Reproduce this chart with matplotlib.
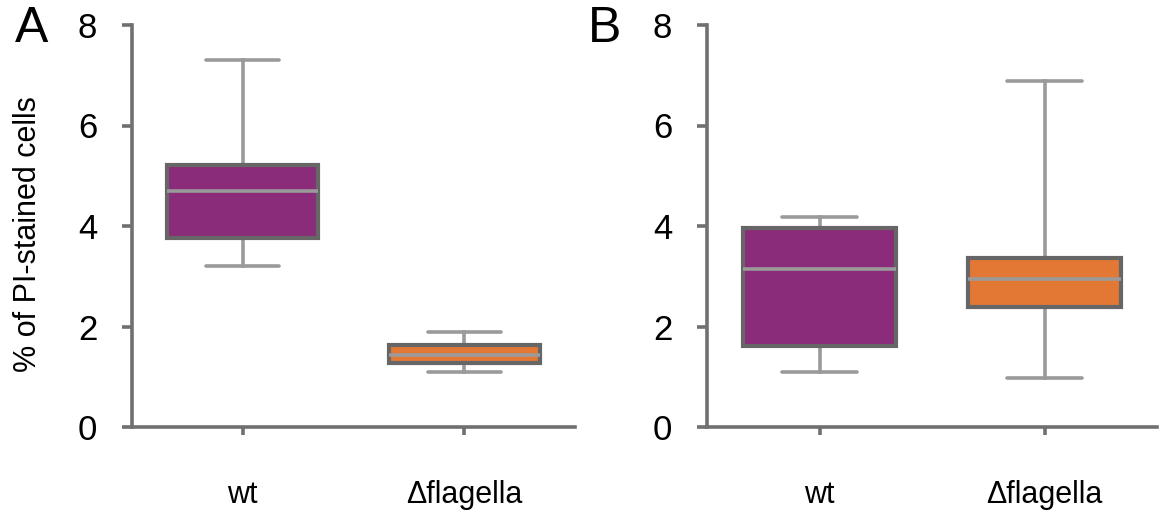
import matplotlib
matplotlib.use("Agg")
import matplotlib.pyplot as plt
from matplotlib import font_manager

names = set(f.name for f in font_manager.fontManager.ttflist)
fam = ['Liberation Sans Narrow'] if 'Liberation Sans Narrow' in names else []
plt.rcParams['font.family'] = fam + ['Liberation Sans', 'DejaVu Sans']

# box statistics (% of PI-stained cells)
groups = ['wt', '\u0394flagella']
a_whislo = [3.20, 1.09]
a_q1 = [3.76, 1.28]
a_med = [4.70, 1.43]
a_q3 = [5.21, 1.63]
a_whishi = [7.30, 1.89]

b_whislo = [1.09, 0.98]
b_q1 = [1.61, 2.39]
b_med = [3.14, 2.94]
b_q3 = [3.96, 3.36]
b_whishi = [4.18, 6.89]

box_colors = ['#8b2c7a', '#e37834']
edge = '#666666'
whisk = '#9a9a9a'
spine = '#707070'


def make_stats(lo, q1, med, q3, hi):
    return [dict(whislo=lo[i], q1=q1[i], med=med[i], q3=q3[i], whishi=hi[i], fliers=[])
            for i in range(len(lo))]


def draw_panel(ax, stats, letter):
    bp = ax.bxp(stats, positions=[1, 2], widths=0.68, patch_artist=True,
                showfliers=False, capwidths=0.33,
                boxprops=dict(edgecolor=edge, linewidth=3.0, zorder=3),
                whiskerprops=dict(color=whisk, linewidth=2.6, zorder=2),
                capprops=dict(color=whisk, linewidth=2.6, solid_capstyle='round'),
                medianprops=dict(color=whisk, linewidth=2.6, zorder=4))
    for patch, c in zip(bp['boxes'], box_colors):
        patch.set_facecolor(c)
    ax.set_xlim(0.5, 2.5)
    ax.set_ylim(0, 8)
    ax.set_yticks([0, 2, 4, 6, 8])
    ax.set_xticks([1, 2])
    ax.set_xticklabels(groups)
    for s in ['top', 'right']:
        ax.spines[s].set_visible(False)
    for s in ['left', 'bottom']:
        ax.spines[s].set_color(spine)
        ax.spines[s].set_linewidth(2.6)
    ax.tick_params(axis='y', direction='out', length=7, width=2.6, color=spine,
                   labelsize=25, pad=18)
    ax.tick_params(axis='x', direction='out', length=6, width=2.6, color=spine,
                   labelsize=22, pad=32)
    ax.text(-0.265, 0.99, letter, transform=ax.transAxes, fontsize=36,
            ha='left', va='center')


fig = plt.figure(figsize=(11.6, 5.14), dpi=100)
axA = fig.add_axes([132 / 1160, 87 / 514, 443 / 1160, 402 / 514])
axB = fig.add_axes([707 / 1160, 87 / 514, 450 / 1160, 402 / 514])

draw_panel(axA, make_stats(a_whislo, a_q1, a_med, a_q3, a_whishi), 'A')
draw_panel(axB, make_stats(b_whislo, b_q1, b_med, b_q3, b_whishi), 'B')

axA.set_ylabel('% of PI-stained cells', fontsize=22)
axA.yaxis.set_label_coords(-0.20, 0.48)

fig.savefig('out.png', dpi=100, facecolor='white')
